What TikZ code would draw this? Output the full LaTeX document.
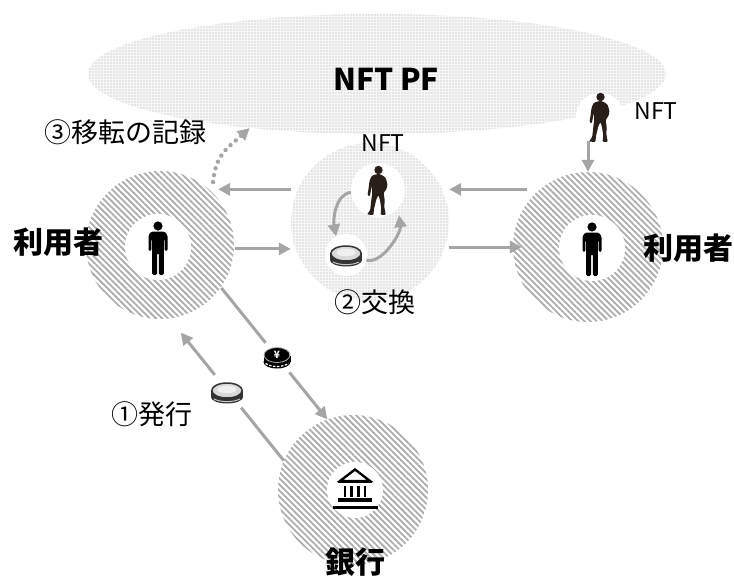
\documentclass[tikz,border=0pt]{standalone}
\usepackage{fontspec}
\setmainfont{Noto Sans CJK JP}
\usetikzlibrary{arrows.meta,patterns.meta,shapes.geometric}

\definecolor{arrowgray}{RGB}{165,165,165}
\definecolor{stripegray}{RGB}{172,172,172}
\definecolor{dotgray}{RGB}{212,212,212}
\definecolor{nftbrown}{RGB}{40,30,26}

% 图标
\tikzset{
  pics/person/.style={code={
    \fill (0,-21) circle (4.6);
    \fill[rounded corners=1.5pt] (-9.5,4) -- (-9.5,-12) -- (-6.5,-15.5) -- (6.5,-15.5) -- (9.5,-12) -- (9.5,4)
      -- (6.6,4) -- (6.6,-8) -- (5.8,-8) -- (5.8,28) -- (0.9,28) -- (0.9,6) -- (-0.9,6) -- (-0.9,28)
      -- (-5.8,28) -- (-5.8,-8) -- (-6.6,-8) -- (-6.6,4) -- cycle;
  }},
  pics/nftman/.style={code={
    \fill[nftbrown] (0.5,-20) circle (4.2);
    \fill[nftbrown,rounded corners=1pt] (-1.8,-15.8) -- (-6.5,-14) -- (-8.5,-9) -- (-9.5,-1) -- (-10.5,5)
      -- (-8.2,6.5) -- (-7,0) -- (-6.2,-5) -- (-5.8,3) -- (-6.8,11) -- (-7.8,20) -- (-11,24.5)
      -- (-4.6,25) -- (-4,19) -- (-1.6,9) -- (0.4,5) -- (2,10) -- (3.2,18) -- (2.6,24.8) -- (7.8,25)
      -- (6.4,18) -- (6.6,9) -- (5.6,3) -- (8.5,-1) -- (9.5,-6) -- (7.5,-12.5) -- (2.5,-15.8) -- cycle;
  }},
  pics/coin/.style={code={
    \fill[black!80] (-16,-1) rectangle (16,5);
    \fill[black!80] (0,5) ellipse [x radius=16,y radius=6.5];
    \draw[gray!45,line width=1pt] (-13,7) .. controls (-6,10.5) and (6,10.5) .. (13,7);
    \filldraw[fill=gray!30,draw=black!80,line width=1.5pt] (0,-1.5) ellipse [x radius=15.2,y radius=7.5];
    \fill[gray!12] (0,-2.5) ellipse [x radius=9.5,y radius=3.8];
  }},
  pics/yencoin/.style={code={
    \fill (-13.5,-2) rectangle (13.5,4);
    \fill (0,4) ellipse [x radius=13.5,y radius=6.5];
    \draw[white,line width=1.2pt,dash pattern=on 2.5pt off 1.5pt] (-11.5,5.5) .. controls (-5,9.5) and (5,9.5) .. (11.5,5.5);
    \filldraw[fill=black,draw=gray!60,line width=0.8pt] (0,-3) ellipse [x radius=13,y radius=7.5];
    \node[text=white,inner sep=0pt,font=\bfseries\fontsize{10}{10}\selectfont] (-mark) at (0,-3) {¥};
  }},
  pics/bank/.style={code={
    \draw[line width=2.4pt,line join=miter] (-15,-9) -- (0,-20.5) -- (15,-9) -- cycle;
    \fill (-17,-9.5) rectangle (17,-7);
    \foreach \cx in {-10,-3.4,3.4,10}
      \fill (\cx-1.4,-4) rectangle (\cx+1.4,7);
    \fill (-17,8) rectangle (17,11.5);
    \fill (-22.5,16) rectangle (22.5,19);
  }},
}

\begin{document}
\begin{tikzpicture}[x=1pt,y=-1pt,>={Triangle[length=12pt,width=12pt]},
  flow/.style={->,draw=arrowgray,line width=3pt},
  swap/.style={->,draw=arrowgray,line width=3pt},
  record/.style={->,draw=arrowgray,line width=4.4pt,line cap=round,dash pattern=on 0pt off 7pt},
  ring/.style={circle,inner sep=0pt,minimum size=#1,pattern={Lines[angle=-45,distance=4.3pt,line width=1.8pt]},pattern color=stripegray},
  cloud/.style={inner sep=0pt,preaction={fill=gray!6},pattern={Dots[distance=3pt,radius=0.8pt]},pattern color=dotgray},
  hole/.style={circle,fill=white,inner sep=0pt,minimum size=#1},
  bigname/.style={font=\bfseries\fontsize{30}{32}\selectfont},
  steptext/.style={font=\fontsize{27}{29}\selectfont},
  nfttag/.style={font=\fontsize{23}{25}\selectfont}]

  \useasboundingbox (0,0) rectangle (734,576);

  % 平台
  \node[cloud,ellipse,minimum width=578pt,minimum height=120pt] (pf) at (377,74) {};
  \node[font=\bfseries\fontsize{30}{32}\selectfont] (pfname) at (386,79) {NFT PF};

  % 圆环
  \node[ring=148pt] (userL) at (160,245) {};
  \node[ring=150pt] (userR) at (588,247) {};
  \node[ring=150pt] (bank) at (353,490) {};
  \node[cloud,circle,minimum size=158pt] (hub) at (370,222) {};

  % 白底
  \node[hole=66pt] (userLin) at (158,247) {};
  \node[hole=66pt] (userRin) at (592,248) {};
  \node[hole=56pt] (bankin) at (355,490) {};
  \node[hole=54pt] (nftC) at (378,190) {};
  \node[hole=42pt] (coinC) at (346,255) {};
  \node[hole=48pt] (nftR) at (600,117) {};

  % 横向箭头
  \draw[flow,shorten >=8pt] (hub.west |- userL.48) -- (userL.48);
  \draw[flow] (userL.-3) -- (userL.-3 -| hub.west);
  \draw[flow,shorten <=13pt] (userR.130) -- (userR.130 -| hub.east);
  \draw[flow] (hub.east |- userR.west) -- ([xshift=9pt]userR.west);
  \draw[flow] (nftR.south -| userR.north) -- (userR.north);

  % 交换
  \draw[swap] (nftC.185) .. controls +(-16,2) and +(-3,-16) .. (coinC.118);
  \draw[swap,shorten >=7pt] (coinC.-15) .. controls +(17,3) and +(3,24) .. (nftC.-42);

  % 记录
  \draw[record] ([yshift=10pt]userL.45) .. controls +(3,-28) and +(-22,20) .. (pf.203);

  % 银行
  \draw[flow] (userL.-35) -- (bank.110);
  \draw[flow] (bank.157) -- ++(-103,-128);
  \node[hole=38pt] (yenC) at (277,358) {};
  \node[hole=42pt] (coinB) at (227,392) {};

  \pic at (userLin) {person};
  \pic at (userRin) {person};
  \pic at (bankin) {bank};
  \pic at (nftC) {nftman};
  \pic at (nftR) {nftman};
  \pic at (coinC) {coin};
  \pic at (coinB) {coin};
  \pic at (yenC) {yencoin};

  % 文字
  \node[bigname] (nameL) at (58,242) {利用者};
  \node[bigname] (nameR) at (688,248) {利用者};
  \node[bigname] (nameB) at (355,562) {銀行};
  \node[steptext] (rec) at (126,132) {③移転の記録};
  \node[steptext] (swapname) at (375,302) {②交換};
  \node[steptext] (issue) at (152,414) {①発行};
  \node[nfttag] (tagC) at (383,143) {NFT};
  \node[nfttag] (tagR) at (656,111) {NFT};
\end{tikzpicture}
\end{document}
